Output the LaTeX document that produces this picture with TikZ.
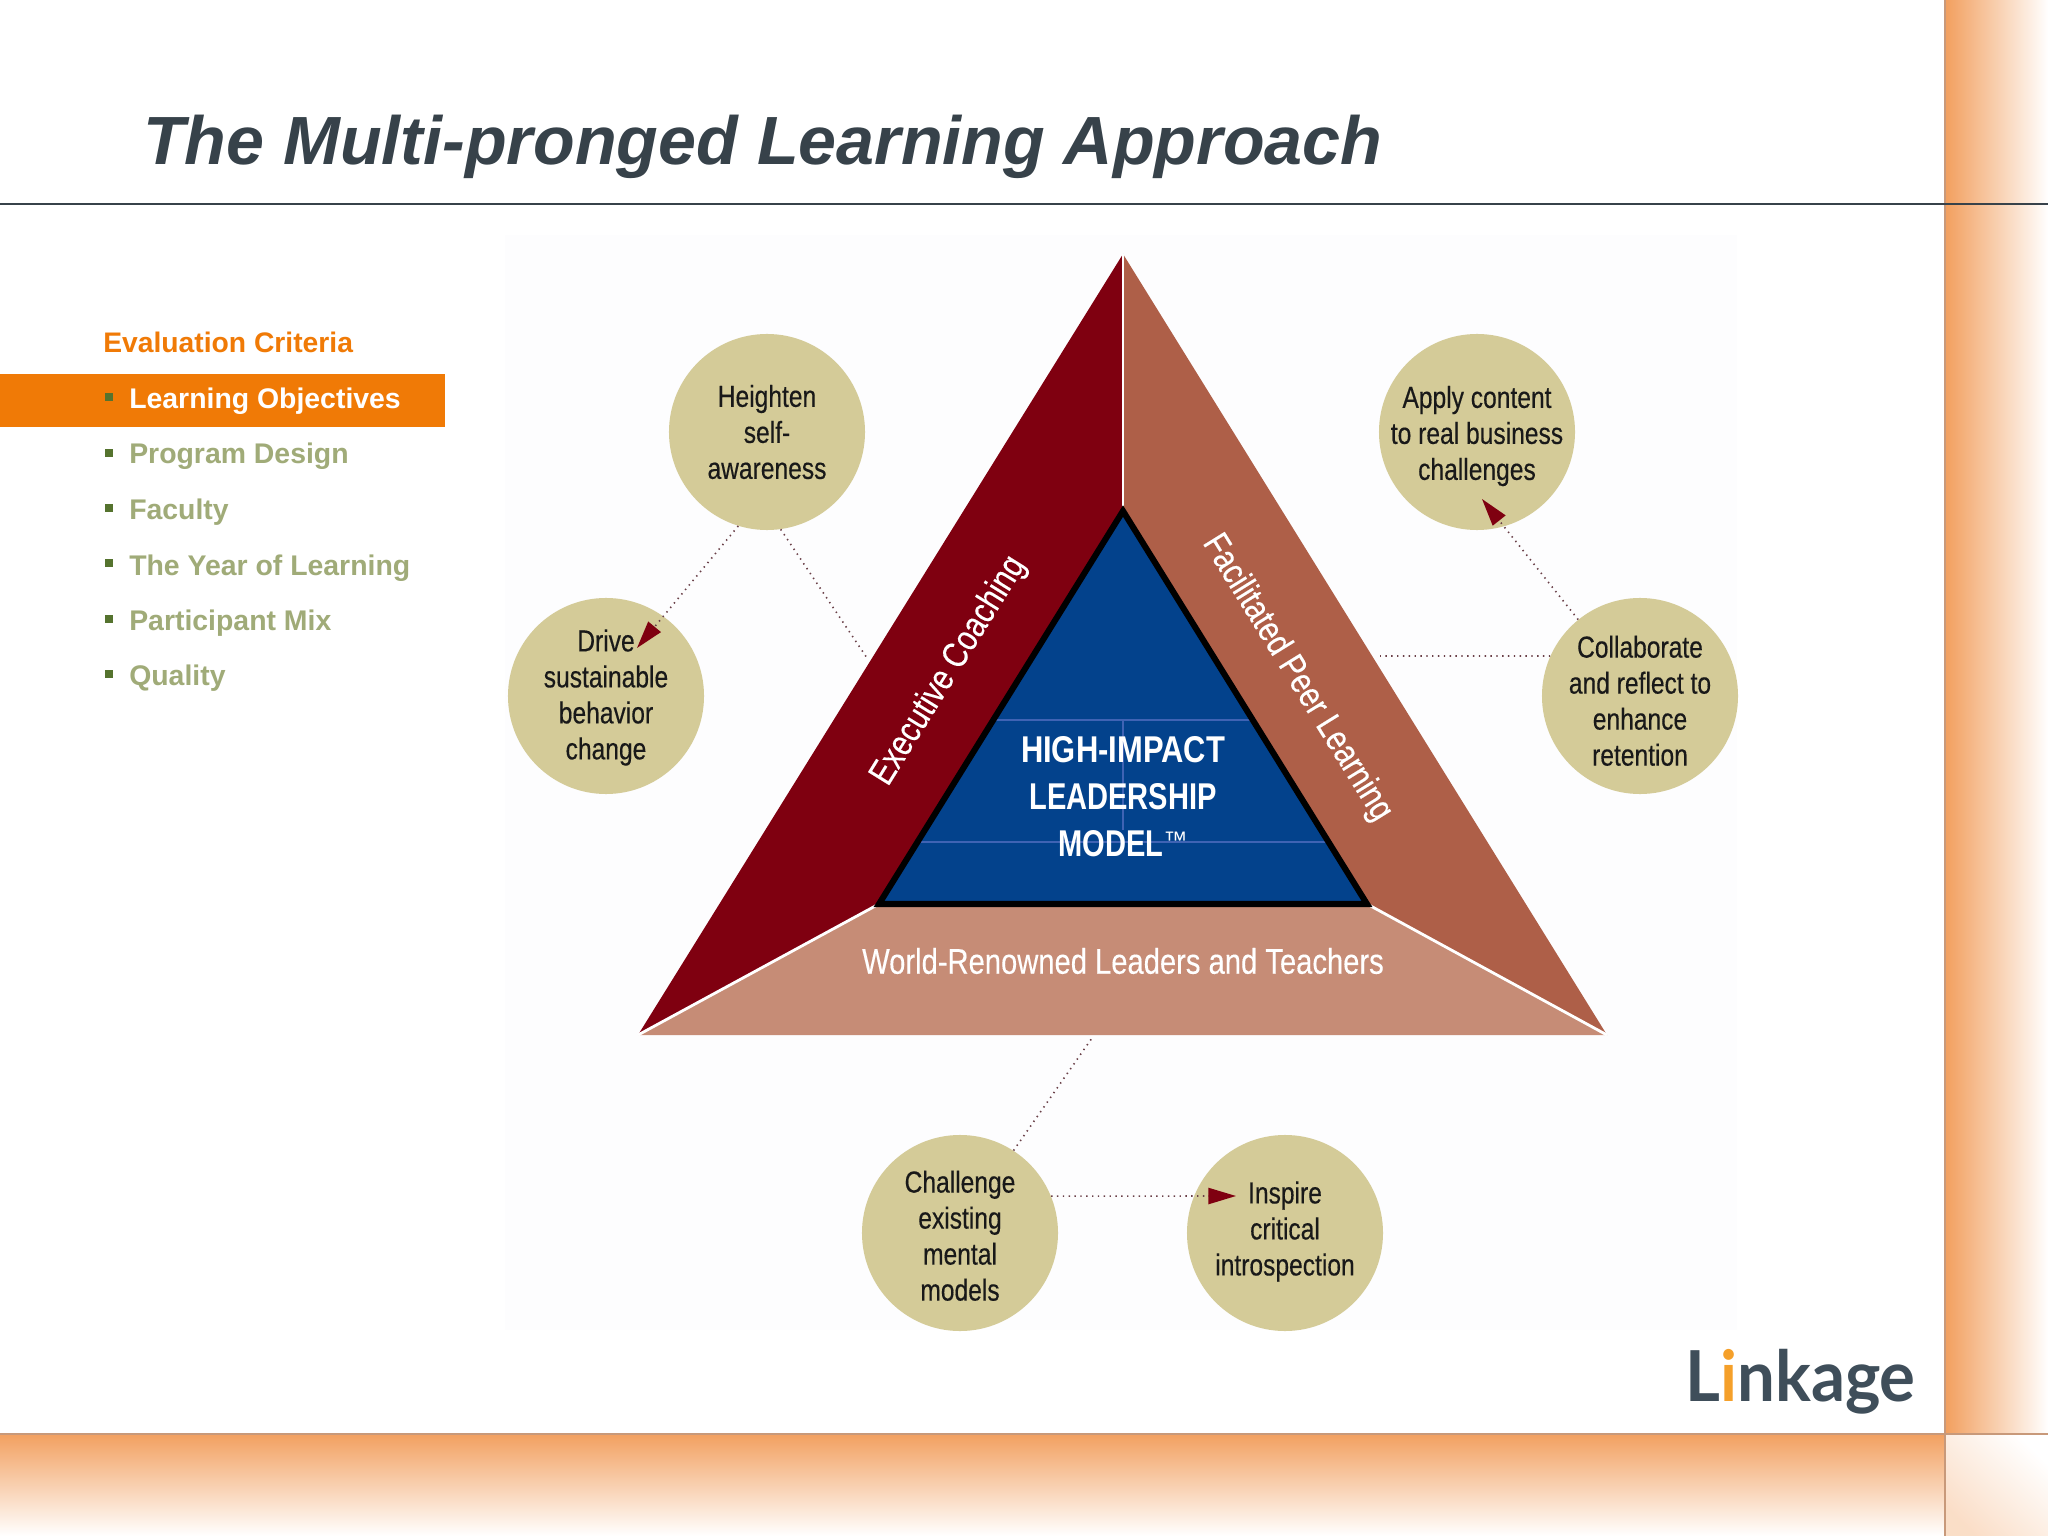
\documentclass[tikz,border=0pt]{standalone}
\usepackage{fontspec}
\setmainfont{Liberation Sans}
\newfontfamily\condfont[FakeStretch=0.81,FakeBold=0.35]{Liberation Sans}
\newfontfamily\sidefont[FakeStretch=0.82,FakeBold=0.25]{Liberation Sans}
\newfontfamily\condbold[FakeStretch=0.83]{Liberation Sans Bold}
\newfontfamily\narrowbold[FakeStretch=0.78]{Liberation Sans Bold}
\newfontfamily\logofont[FakeStretch=0.955]{Lato}
\usetikzlibrary{arrows.meta}
\definecolor{dred}{HTML}{7F0010}
\definecolor{brownred}{HTML}{AE5F48}
\definecolor{salmon}{HTML}{C68C76}
\definecolor{royal}{HTML}{03428C}
\definecolor{gridblue}{HTML}{3F63B4}
\definecolor{tan}{HTML}{D4CB98}
\definecolor{peach}{HTML}{F2A060}
\definecolor{edgeline}{HTML}{C8997A}
\definecolor{slate}{HTML}{37424A}
\definecolor{barorange}{HTML}{F07A06}
\definecolor{itemgreen}{HTML}{A0AB78}
\definecolor{bulletgreen}{HTML}{55732E}
\definecolor{logoslate}{HTML}{3F4E5A}
\definecolor{logoorange}{HTML}{F5A02A}
\definecolor{dotcol}{HTML}{6A4048}
\definecolor{panelwhite}{HTML}{FDFDFE}
\newcommand{\droptext}[1]{\rule{0pt}{#1pt}}
\tikzset{
  x=0.025cm,y=-0.025cm,
  bubble/.style={circle,fill=tan,draw=none,minimum size=196*0.7113pt,inner sep=-14pt,align=center,text=black!90,
    font=\condfont\fontsize{21.6}{25.6}\selectfont},
  dotline/.style={draw=dotcol,line width=1.15pt,dash pattern=on 1pt off 3.15pt},
  redtip/.style={-{Triangle[length=19.6pt,width=11.5pt,color=dred,fill=dred]}},
  sidelabel/.style={text=white,inner sep=0pt,font=\sidefont\fontsize{25.7}{28}\selectfont},
  bandlabel/.style={text=white,inner sep=0pt,font=\sidefont\fontsize{25.3}{28}\selectfont},
  item/.style={anchor=base west,inner sep=0pt,text=itemgreen,font=\bfseries\fontsize{20.2}{22}\selectfont},
  bulletmark/.style={fill=bulletgreen,draw=none,minimum size=6pt,inner sep=0pt},
  modeltext/.style={anchor=base,text=white,inner sep=0pt,font=\condbold\fontsize{26.5}{32}\selectfont},
  narrowtext/.style={modeltext,font=\narrowbold\fontsize{26.5}{32}\selectfont},
  whiteedge/.style={draw=white,line width=2pt},
  gridline/.style={draw=gridblue,line width=0.9pt},
}
\begin{document}
\begin{tikzpicture}
\useasboundingbox (0,0) rectangle (2048,1536);
\fill[white] (0,0) rectangle (2048,1536);
% faint panel
\fill[panelwhite] (505,235) rectangle (1737,1330);
% decorative bands
\shade[left color=peach,right color=white] (1946,0) rectangle (2048,1434);
\shade[top color=peach,bottom color=white] (0,1434) rectangle (1946,1536);
\shade[left color=peach!35!white,right color=white,shading angle=135] (1946,1434) rectangle (2048,1536);
\draw[edgeline,line width=2pt] (1945,0) -- (1945,1536);
\draw[edgeline,line width=2pt] (0,1434) -- (2048,1434);
\draw[slate,line width=1.6pt] (0,204) -- (2048,204);
% title
\node[anchor=base west,inner sep=0pt,text=slate,font=\bfseries\itshape\fontsize{48.5}{56}\selectfont] (title) at (143,165) {The Multi-pronged Learning Approach};
% sidebar
\node[anchor=base west,inner sep=0pt,text=barorange,font=\bfseries\fontsize{20.1}{22}\selectfont] (crit) at (103,353) {Evaluation Criteria};
\fill[barorange] (0,374) rectangle (445,427);
\node[item,text=white] (i1) at (129,409) {Learning Objectives};
\node[item] (i2) at (129,464) {Program Design};
\node[item] (i3) at (129,520) {Faculty};
\node[item] (i4) at (129,575) {The Year of Learning};
\node[item] (i5) at (129,630) {Participant Mix};
\node[item] (i6) at (129,685) {Quality};
\node[bulletmark] (b1) at (109,397) {};
\node[bulletmark] (b2) at (109,453) {};
\node[bulletmark] (b3) at (109,508) {};
\node[bulletmark] (b4) at (109,563) {};
\node[bulletmark] (b5) at (109,619) {};
\node[bulletmark] (b6) at (109,674) {};
% triangle
\coordinate (apex) at (1123,254);
\coordinate (ol) at (638,1035);
\coordinate (or) at (1607,1035);
\coordinate (ia) at (1123,511);
\coordinate (il) at (879,904);
\coordinate (ir) at (1367,904);
\fill[dred] (apex) -- (ia) -- (il) -- (ol) -- cycle;
\fill[brownred] (apex) -- (ia) -- (ir) -- (or) -- cycle;
\fill[salmon] (ol) -- (il) -- (ir) -- (or) -- cycle;
\draw[whiteedge] (apex) -- (ia);
\draw[whiteedge] (il) -- (ol);
\draw[whiteedge] (ir) -- (or);
\fill[royal] (ia) -- (il) -- (ir) -- cycle;
\draw[gridline] (993,720) -- (1252,720);
\draw[gridline] (918,842) -- (1327,842);
\draw[gridline] (1123,720) -- (1123,830);
\draw[black,line width=4.3pt,line join=miter] (ia) -- (il) -- (ir) -- cycle;
\node[modeltext] (m1) at (1123,762) {HIGH-IMPACT};
\node[narrowtext] (m2) at (1123,809) {LEADERSHIP};
\node[narrowtext] (m3) at (1123,856) {MODEL{\fontsize{17}{19}\selectfont\rmfamily\raisebox{5pt}{™}}};
\node[sidelabel,rotate=58.2] (ec) at (949,671) {Executive Coaching};
\node[sidelabel,rotate=-58.2] (fp) at (1297,678) {Facilitated Peer Learning};
\node[bandlabel] (wr) at (1123,961) {World-Renowned Leaders and Teachers};
% bubbles
\node[bubble] (heighten) at (767,432) {Heighten\\self-\\awareness};
\node[bubble] (drive) at (606,696) {\droptext{17.8}Drive\\sustainable\\behavior\\change};
\node[bubble] (apply) at (1477,432) {\droptext{21.4}Apply content\\to real business\\challenges};
\node[bubble] (collab) at (1640,696) {\droptext{22.4}Collaborate\\and reflect to\\enhance\\retention};
\node[bubble] (challenge) at (960,1233) {\droptext{19.5}Challenge\\existing\\mental\\models};
\node[bubble] (inspire) at (1285,1233) {Inspire\\critical\\introspection\rule[-6.5pt]{0pt}{0pt}};
% connectors
\coordinate (tipdrive) at (637,648);
\coordinate (tipapply) at (1482,499);
\coordinate (tipinspire) at (1236,1196);
\coordinate (sideleft) at (867,658);
\coordinate (sideright) at (1380,656);
\coordinate (sidebottom) at (1092,1038);
\draw[dotline,redtip] (heighten.253) -- (tipdrive);
\draw[dotline] (heighten.278) -- (sideleft);
\draw[dotline,redtip] (collab.129) -- (tipapply);
\draw[dotline] (collab.156) -- (sideright);
\draw[dotline] (challenge.57) -- (sidebottom);
\draw[dotline,redtip] (challenge.22) -- (tipinspire);
% logo
\node[anchor=base west,inner sep=0pt,text=logoslate,font=\logofont\bfseries\fontsize{50}{56}\selectfont] (logo) at (1685,1401) {L\textcolor{logoorange}{i}nkage};
\end{tikzpicture}
\end{document}
